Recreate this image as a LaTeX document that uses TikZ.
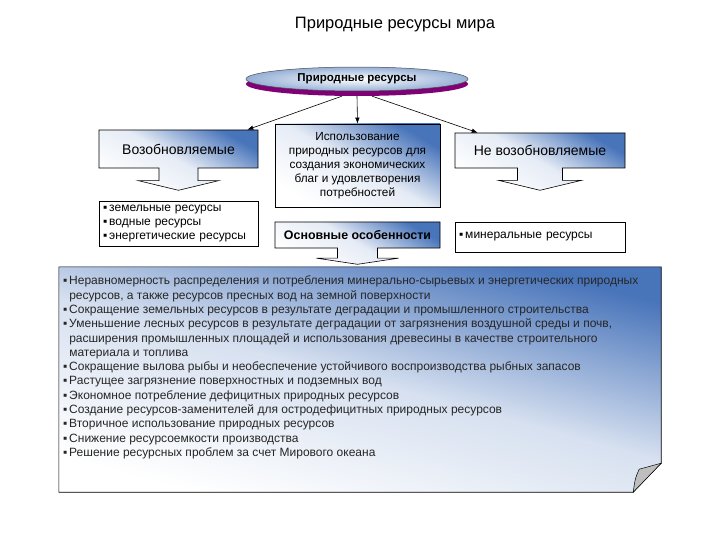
\documentclass[tikz,border=0pt]{standalone}
\usepackage{fontspec}
\setmainfont{Liberation Sans}
\usetikzlibrary{shapes.geometric,shapes.arrows,shadows,arrows.meta}

\definecolor{boxblue}{RGB}{72,116,186}
\definecolor{paleblue}{RGB}{150,176,214}
\definecolor{plum}{RGB}{128,0,118}
\definecolor{flapgray}{RGB}{190,190,190}
\newcommand{\bul}{▪\,}

\tikzset{
  blueshade/.style={draw=black, line width=0.6pt, top color=boxblue, bottom color=white,
    middle color=boxblue!14!white, shading angle=-30},
  listbox/.style={draw=black, line width=0.6pt, fill=white, align=left, inner sep=4pt,
    font=\fontsize{12}{14}\selectfont},
  downcallout/.style={arrow box, blueshade, inner sep=0pt, font=\fontsize{14}{16}\selectfont},
  link/.style={-{Latex[length=6pt,width=4.5pt]}, line width=0.6pt}
}

\begin{document}
\begin{tikzpicture}[x=1pt,y=-1pt]
\useasboundingbox (0,0) rectangle (720,540);

\node (title) at (395,25) {\fontsize{16.5}{18}\selectfont Природные ресурсы мира};

\node (res) [ellipse, draw=black!70, line width=0.5pt, minimum width=222pt, minimum height=23pt,
  inner color=white, outer color=paleblue, general shadow={fill=plum, shadow yshift=-5pt},
  font=\bfseries\fontsize{11.5}{13}\selectfont] at (357,79) {Природные ресурсы};

% left column
\node (ren) [downcallout, minimum width=159pt, minimum height=38pt,
  arrow box arrows={south:22pt}, arrow box shaft width=39pt,
  arrow box head extend=21pt, arrow box tip angle=153] at (178.5,149) {Возобновляемые};
\node (renlist) [listbox, text width=151pt, minimum height=45pt] at (178.5,223.5)
  {\bul земельные ресурсы\\ \bul водные ресурсы\\ \bul энергетические ресурсы};

% middle column
\node (use) [blueshade, minimum width=165pt, minimum height=83pt, align=center,
  font=\fontsize{11.8}{14}\selectfont] at (357.5,165.5)
  {Использование\\ природных ресурсов для\\ создания экономических\\ благ и удовлетворения\\ потребностей};
\node (feat) [downcallout, minimum width=165pt, minimum height=26pt,
  arrow box arrows={south:16pt}, arrow box shaft width=40pt,
  arrow box head extend=21pt, arrow box tip angle=163,
  font=\bfseries\fontsize{12.4}{14}\selectfont] at (357.5,235) {Основные особенности};

% right column
\node (non) [downcallout, minimum width=170pt, minimum height=35pt,
  arrow box arrows={south:22pt}, arrow box shaft width=45pt,
  arrow box head extend=19pt, arrow box tip angle=153] at (540,150.5) {Не возобновляемые};
\node (nonlist) [listbox, text width=162pt, minimum height=30pt] at (540,237)
  {\bul минеральные ресурсы};

\draw[link] ([yshift=-5pt]res.219) -- ([xshift=-11pt]ren.north east);
\draw[link] ([yshift=-5pt]res.south) -- (use.north);
\draw[link] ([yshift=-5pt]res.-39) -- ([xshift=23pt]non.north west);

% features sheet with folded corner
\node (sheet) [minimum width=602pt, minimum height=225pt, inner sep=0pt] at (360,379.5) {};
\shade[blueshade, middle color=boxblue!22!white, shading angle=-15]
  (sheet.north west) -- (sheet.north east) -- ([yshift=29pt]sheet.south east)
  -- ([xshift=-28pt]sheet.south east) -- (sheet.south west) -- cycle;
\filldraw[fill=flapgray, draw=black, line width=0.5pt]
  ([xshift=-28pt]sheet.south east) .. controls ([xshift=-26pt,yshift=14pt]sheet.south east)
  .. ([xshift=-22pt,yshift=23pt]sheet.south east) -- ([yshift=29pt]sheet.south east) -- cycle;
\node (sheettext) [anchor=north west, align=left, inner sep=0pt, text=black!85,
  font=\fontsize{12}{14.3}\selectfont] at ([xshift=4pt,yshift=-9pt]sheet.north west)
  {\bul Неравномерность распределения и потребления минерально-сырьевых и энергетических природных\\
   \phantom{\bul}ресурсов, а также ресурсов пресных вод на земной поверхности\\
   \bul Сокращение земельных ресурсов в результате деградации и промышленного строительства\\
   \bul Уменьшение лесных ресурсов в результате деградации от загрязнения воздушной среды и почв,\\
   \phantom{\bul}расширения промышленных площадей и использования древесины в качестве строительного\\
   \phantom{\bul}материала и топлива\\
   \bul Сокращение вылова рыбы и необеспечение устойчивого воспроизводства рыбных запасов\\
   \bul Растущее загрязнение поверхностных и подземных вод\\
   \bul Экономное потребление дефицитных природных ресурсов\\
   \bul Создание ресурсов-заменителей для остродефицитных природных ресурсов\\
   \bul Вторичное использование природных ресурсов\\
   \bul Снижение ресурсоемкости производства\\
   \bul Решение ресурсных проблем за счет Мирового океана};
\end{tikzpicture}
\end{document}
